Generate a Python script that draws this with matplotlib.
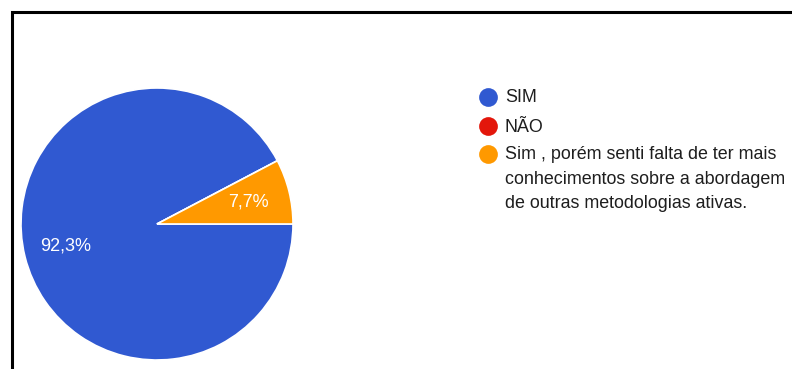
import matplotlib.pyplot as plt
from matplotlib.patches import Rectangle
from matplotlib.lines import Line2D

plt.rcParams['font.family'] = ['Liberation Sans', 'DejaVu Sans']

labels = ['SIM', 'NÃO',
          'Sim , porém senti falta de ter mais\nconhecimentos sobre a abordagem\nde outras metodologias ativas.']
values = [92.3, 0.0, 7.7]
colors = ['#3059d1', '#e3160b', '#ff9900']

W, H = 792, 369
fig = plt.figure(figsize=(W / 100, H / 100), dpi=100)

# pie: center (157, 224) px, radius 136 px
cx, cy, r = 157, 224, 136
ax = fig.add_axes([(cx - r) / W, (H - cy - r) / H, 2 * r / W, 2 * r / H])


def pct(p):
    if p < 0.5:
        return ''
    return f'{p:.1f}%'.replace('.', ',')


wedges, _, autotexts = ax.pie(values, colors=colors, startangle=0, counterclock=False,
                              autopct=pct, pctdistance=0.69, radius=1,
                              wedgeprops=dict(edgecolor='white', linewidth=1.2))
for t in autotexts:
    t.set_color('white')
    t.set_fontsize(13)
ax.set_xlim(-1, 1)
ax.set_ylim(-1, 1)
ax.set_aspect('auto')
ax.axis('off')

# legend, drawn by hand
lx, tx = 488, 505
ys = [97, 126, 154]
for lab, col, y in zip(labels, colors, ys):
    fig.add_artist(Line2D([lx / W], [1 - y / H], marker='o', markersize=13.5,
                          color=col, markeredgewidth=0, linestyle='none'))
    for j, line in enumerate(lab.split('\n')):
        fig.text(tx / W, 1 - (y + 1 + 24.5 * j) / H, line, fontsize=12.85,
                 color='#1e1e1e', va='center', ha='left')

# screenshot frame
fig.add_artist(Rectangle((11.5 / W, -0.1), 1.2, 1 + 0.1 - 12.5 / H,
                         transform=fig.transFigure, fill=False,
                         edgecolor='black', linewidth=2.2))

fig.savefig('out.png', dpi=100)
